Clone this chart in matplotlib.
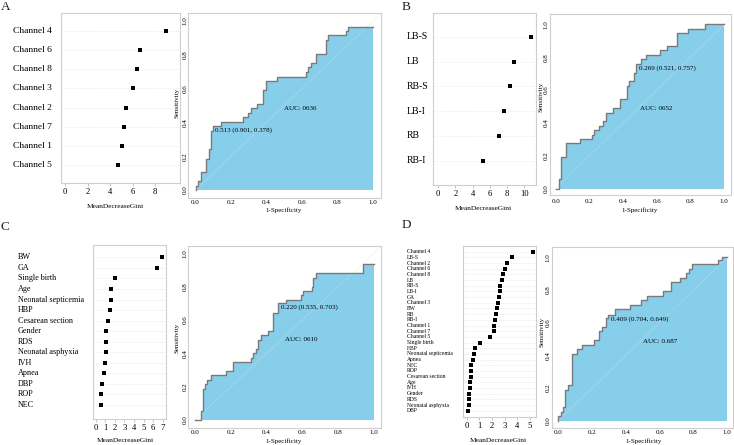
import numpy as np
import matplotlib
matplotlib.use("Agg")
import matplotlib.pyplot as plt
from matplotlib.transforms import blended_transform_factory

plt.rcParams['font.family'] = ['Liberation Serif', 'DejaVu Serif']

W, H = 734, 445

# ---- variable importance data (top to bottom) ----
a_names = ['Channel 4', 'Channel 6', 'Channel 8', 'Channel 3', 'Channel 2',
           'Channel 7', 'Channel 1', 'Channel 5']
a_gini = [8.95, 6.7, 6.4, 6.0, 5.4, 5.25, 5.05, 4.74]

b_names = ['LB-S', 'LB', 'RB-S', 'LB-I', 'RB', 'RB-I']
b_gini = [10.78, 8.84, 8.34, 7.68, 7.1, 5.23]

c_names = ['BW', 'GA', 'Single birth', 'Age', 'Neonatal septicemia', 'HBP',
           'Cesarean section', 'Gender', 'RDS', 'Neonatal asphyxia', 'IVH',
           'Apnea', 'DBP', 'ROP', 'NEC']
c_gini = [6.9, 6.44, 2.05, 1.6, 1.57, 1.53, 1.32, 1.11, 1.08, 1.04, 0.97,
          0.84, 0.63, 0.6, 0.6]

d_names = ['Channel 4', 'LB-S', 'Channel 2', 'Channel 6', 'Channel 8', 'LB',
           'RB-S', 'LB-I', 'GA', 'Channel 3', 'BW', 'RB', 'RB-I', 'Channel 1',
           'Channel 7', 'Channel 5', 'Single birth', 'HBP',
           'Neonatal septicemia', 'Apnea', 'NEC', 'ROP', 'Cesarean section',
           'Age', 'IVH', 'Gender', 'RDS', 'Neonatal asphyxia', 'DBP']
d_gini = [5.26, 3.55, 3.21, 3.03, 2.89, 2.79, 2.63, 2.61, 2.53, 2.5, 2.42,
          2.34, 2.21, 2.13, 2.13, 1.82, 1.03, 0.63, 0.58, 0.53, 0.37, 0.32,
          0.32, 0.29, 0.24, 0.21, 0.21, 0.16, 0.1]

# ---- ROC staircases: curve moves right to fpr[i], then up to tpr[i] ----
a_fpr = [0.0, 0.0, 0.012, 0.029, 0.059, 0.074, 0.085, 0.10, 0.142, 0.27, 0.296,
         0.311, 0.345, 0.382, 0.395, 0.457, 0.622, 0.634, 0.651, 0.677, 0.735,
         0.745, 0.848, 0.861, 1.0]
a_tpr = [0.0, 0.026, 0.053, 0.107, 0.185, 0.243, 0.35, 0.378, 0.40, 0.43, 0.457,
         0.485, 0.51, 0.59, 0.645, 0.67, 0.698, 0.726, 0.753, 0.807, 0.886,
         0.915, 0.939, 0.966, 0.966]

b_fpr = [0.0, 0.02, 0.034, 0.063, 0.146, 0.213, 0.227, 0.257, 0.283, 0.298,
         0.34, 0.383, 0.425, 0.437, 0.464, 0.479, 0.506, 0.536, 0.621, 0.662,
         0.717, 0.787, 0.885, 1.0]
b_tpr = [0.0, 0.059, 0.19, 0.275, 0.30, 0.328, 0.354, 0.378, 0.41, 0.457,
         0.488, 0.547, 0.623, 0.652, 0.706, 0.757, 0.787, 0.814, 0.842, 0.868,
         0.947, 0.974, 1.0, 1.0]

c_fpr = [0.0, 0.032, 0.043, 0.056, 0.069, 0.087, 0.171, 0.214, 0.311, 0.326,
         0.34, 0.353, 0.37, 0.406, 0.435, 0.465, 0.508, 0.594, 0.605, 0.651,
         0.66, 0.675, 0.94, 1.0]
c_tpr = [0.0, 0.054, 0.186, 0.214, 0.24, 0.268, 0.294, 0.346, 0.374, 0.402,
         0.428, 0.48, 0.508, 0.534, 0.64, 0.703, 0.72, 0.748, 0.774, 0.8,
         0.854, 0.88, 0.936, 0.936]

d_fpr = [0.0, 0.0, 0.014, 0.026, 0.039, 0.059, 0.083, 0.112, 0.14, 0.211, 0.24,
         0.256, 0.282, 0.296, 0.335, 0.424, 0.491, 0.523, 0.617, 0.665, 0.72,
         0.753, 0.773, 0.789, 0.943, 0.97, 1.0]
d_tpr = [0.0, 0.029, 0.055, 0.086, 0.19, 0.22, 0.41, 0.44, 0.465, 0.494, 0.549,
         0.576, 0.629, 0.649, 0.684, 0.71, 0.739, 0.765, 0.794, 0.849, 0.873,
         0.902, 0.931, 0.957, 0.984, 1.0, 1.0]

a_auc, b_auc, c_auc, d_auc = 'AUC: 0636', 'AUC: 0652', 'AUC: 0610', 'AUC: 0.687'
a_thr = (0.513, 0.901, 0.378)
b_thr = (0.269, 0.521, 0.757)
c_thr = (0.220, 0.535, 0.703)
d_thr = (0.409, 0.704, 0.649)

fig = plt.figure(figsize=(W / 100, H / 100), dpi=100)
BOX = '#cfcfcf'


def px_axes(l, t, r, b):
    return fig.add_axes([l / W, 1 - b / H, (r - l) / W, (b - t) / H])


def ftext(x, y, s, **kw):
    fig.text(x / W, 1 - y / H, s, **kw)


def dot_panel(box, names, vals, ticks, xcal, rowcal, label_x, lsize, tsize):
    l, t, r, b = box
    ax = px_axes(l, t, r, b)
    n = len(names)
    rows = np.arange(n, 0, -1)
    unit = (xcal[1] - xcal[0]) / ticks[-1]
    ax.set_xlim((l - xcal[0]) / unit, (r - xcal[0]) / unit)
    uy = (rowcal[1] - rowcal[0]) / (n - 1)
    ax.set_ylim(1 - (b - rowcal[1]) / uy, 1 + (rowcal[1] - t) / uy)
    for rr in rows:
        ax.axhline(rr, color='#e4e4e4', lw=0.6, ls=(0, (1, 1.5)), zorder=1)
    ax.scatter(vals, rows, s=5, color='black', marker='s', zorder=3, linewidths=0)
    ax.set_xticks(ticks)
    ax.set_yticks([])
    ax.tick_params(axis='x', length=2, width=0.5, color='#aaaaaa', pad=1.5,
                   labelsize=tsize)
    for sp in ax.spines.values():
        sp.set_color(BOX)
        sp.set_linewidth(0.8)
    tr = blended_transform_factory(fig.transFigure, ax.transData)
    for name, rr in zip(names, rows):
        ax.text(label_x / W, rr, name, transform=tr, ha='left', va='center',
                fontsize=lsize)
    return ax


def roc_panel(box, cal, fpr, tpr, auc, thr, ytick_pad, xtick_pad):
    l, t, r, b = box
    ax = px_axes(l, t, r, b)
    ux = cal[1] - cal[0]
    uy = cal[2] - cal[3]
    ax.set_xlim((l - cal[0]) / ux, (r - cal[0]) / ux)
    ax.set_ylim((cal[2] - b) / uy, (cal[2] - t) / uy)
    ax.fill_between(fpr, tpr, 0, step='post', color='#87CEEB', lw=0, zorder=1)
    ax.plot([-0.2, 1.2], [-0.2, 1.2], color='#e0e0e0', lw=0.5, alpha=0.45, zorder=2)
    ax.step(fpr, tpr, where='post', color='#7a7a7a', lw=1.0, zorder=3)
    ax.text(0.5, 0.5, auc, ha='left', va='top', fontsize=5)
    cut, spec, sens = thr
    ax.text(1 - spec + 0.013, sens - 0.025, f'{cut:.3f} ({spec:.3f}, {sens:.3f})',
            ha='left', va='center', fontsize=5)
    ticks = [0.0, 0.2, 0.4, 0.6, 0.8, 1.0]
    ax.set_xticks(ticks)
    ax.set_yticks(ticks)
    ax.set_xticklabels([f'{v:.1f}' for v in ticks])
    ax.set_yticklabels([f'{v:.1f}' for v in ticks], rotation=90, va='center')
    ax.tick_params(axis='y', length=0, pad=ytick_pad, labelsize=5)
    ax.tick_params(axis='x', length=0, pad=xtick_pad, labelsize=5)
    for sp in ax.spines.values():
        sp.set_color(BOX)
        sp.set_linewidth(0.8)
    return ax


# panel A
dot_panel((61, 13, 180.3, 183.3), a_names, a_gini, [0, 2, 4, 6, 8],
          (65, 155), (31, 165), 12.7, 6.8, 6.2)
roc_panel((188, 13.3, 380.7, 197.6), (195.5, 373, 190, 21), a_fpr, a_tpr,
          a_auc, a_thr, 0.4, 2.0)
# panel B
dot_panel((433.3, 13.3, 535.7, 185), b_names, b_gini, [0, 2, 4, 6, 8, 10],
          (438.3, 524.3), (36.7, 160.7), 406.7, 7.0, 6.2)
roc_panel((550, 14.3, 731.5, 195), (555.7, 724.3, 188.5, 24.3), b_fpr, b_tpr,
          b_auc, b_thr, 1.0, 2.6)
# panel C
dot_panel((92.7, 245, 166, 419.3), c_names, c_gini, [0, 1, 2, 3, 4, 5, 6, 7],
          (95.7, 162.7), (257.3, 405), 17.7, 5.9, 6.2)
roc_panel((188.3, 245.7, 380.7, 427.5), (195, 374, 420, 253.3), c_fpr, c_tpr,
          c_auc, c_thr, 0.7, 2.0)
# panel D
dot_panel((463.3, 245.7, 536, 416.7), d_names, d_gini, [0, 1, 2, 3, 4, 5],
          (466.7, 530), (251.7, 410.7), 406.7, 4.1, 6.2)
roc_panel((551.7, 246.7, 733.3, 427.5), (558.3, 727.3, 420.7, 257.3), d_fpr, d_tpr,
          d_auc, d_thr, 1.0, 2.0)

# axis titles
for x, y in [(115, 206.7), (483, 209), (125, 440.7), (498.3, 440.7)]:
    ftext(x, y, 'MeanDecreaseGini', ha='center', va='center', fontsize=5.3)
for x, y in [(284, 210), (640, 210), (283.3, 440.7), (643.3, 440.7)]:
    ftext(x, y, '1-Specificity', ha='center', va='center', fontsize=5)
for x, y in [(176.7, 103), (541, 97), (176.7, 338), (541.7, 332)]:
    ftext(x, y, 'Sensitivity', ha='center', va='center', fontsize=5, rotation=90)

# panel letters
for x, y, s in [(0.5, 7, 'A'), (401.7, 7, 'B'), (0.5, 227.5, 'C'), (401.7, 225, 'D')]:
    ftext(x, y, s, ha='left', va='center', fontsize=9.5, color='#222222')

fig.savefig('out.png', dpi=100)
